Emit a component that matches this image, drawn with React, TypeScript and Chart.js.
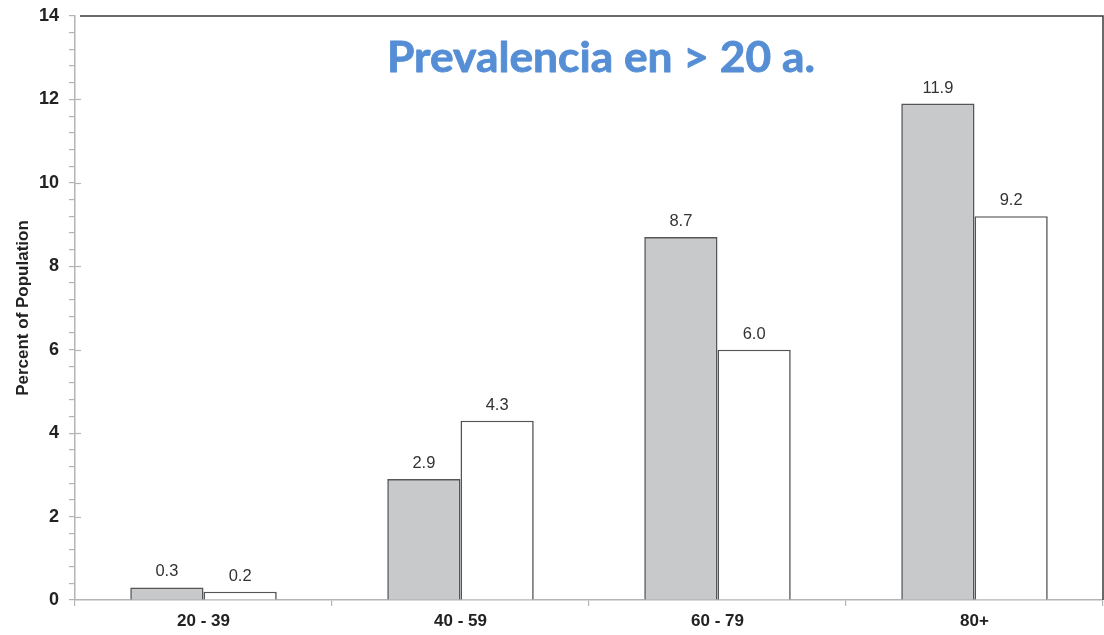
import React, { useEffect, useRef } from "react";
import { Chart, registerables } from "chart.js";

Chart.register(...registerables);

// Age groups and prevalence (%) for the two series
const categories = ["20 - 39", "40 - 59", "60 - 79", "80+"];
const seriesGray = [0.3, 2.9, 8.7, 11.9];
const seriesWhite = [0.2, 4.3, 6.0, 9.2];
const yMajorTicks = [0, 2, 4, 6, 8, 10, 12, 14];
const minorDivisions = 5;
const titleText = "Prevalencia en > 20 a.";
const yAxisTitle = "Percent of Population";

const AXIS_GRAY = "#b4b4b4";
const BAR_EDGE = "#555555";
const FONT = '"Liberation Sans", Arial, sans-serif';

// Draws the frame, major tick extensions, value labels and the heading
const decorations = {
  id: "decorations",
  afterDatasetsDraw(chart: any) {
    const { ctx, chartArea } = chart;
    const y = chart.scales.y;
    ctx.save();

    // top and right frame
    ctx.strokeStyle = "#3a3a3a";
    ctx.lineWidth = 1.5;
    ctx.beginPath();
    ctx.moveTo(chartArea.left + 5, chartArea.top);
    ctx.lineTo(chartArea.right, chartArea.top);
    ctx.lineTo(chartArea.right, chartArea.bottom);
    ctx.stroke();

    // major ticks reach a little into the plot
    ctx.strokeStyle = AXIS_GRAY;
    ctx.lineWidth = 1.2;
    yMajorTicks.forEach((v) => {
      if (v === 0 || v === 14) return;
      const py = Math.round(y.getPixelForValue(v)) + 0.5;
      ctx.beginPath();
      ctx.moveTo(chartArea.left, py);
      ctx.lineTo(chartArea.left + 6, py);
      ctx.stroke();
    });

    // value labels above each bar
    ctx.fillStyle = "#333333";
    ctx.font = `16.5px ${FONT}`;
    ctx.textAlign = "center";
    ctx.textBaseline = "alphabetic";
    chart.data.datasets.forEach((ds: any, di: number) => {
      const meta = chart.getDatasetMeta(di);
      meta.data.forEach((bar: any, i: number) => {
        const v = ds.data[i] as number;
        ctx.fillText(v.toFixed(1), bar.x, bar.y - 11);
      });
    });

    // heading
    ctx.fillStyle = "#558ed5";
    ctx.strokeStyle = "#558ed5";
    ctx.lineWidth = 0.8;
    ctx.lineJoin = "round";
    ctx.font = 'bold 42px Lato, "Open Sans", sans-serif';
    ctx.textAlign = "left";
    const targetW = 428;
    const w = ctx.measureText(titleText).width;
    ctx.translate(387, 72);
    ctx.scale(targetW / w, 1);
    ctx.fillText(titleText, 0, 0);
    ctx.strokeText(titleText, 0, 0);
    ctx.restore();
  },
};

export default function App() {
  const canvasRef = useRef<HTMLCanvasElement | null>(null);

  useEffect(() => {
    if (!canvasRef.current) return;
    const chart = new Chart(canvasRef.current, {
      type: "bar",
      data: {
        labels: categories,
        datasets: [
          {
            data: seriesGray,
            backgroundColor: "#c8c9cb",
            borderColor: BAR_EDGE,
            borderWidth: 1.6,
          },
          {
            data: seriesWhite,
            backgroundColor: "#ffffff",
            borderColor: BAR_EDGE,
            borderWidth: 1.6,
          },
        ],
      },
      options: {
        responsive: false,
        animation: false,
        layout: { padding: { top: 16, right: 1, left: 0, bottom: 0 } },
        plugins: {
          legend: { display: false },
          title: { display: false },
          tooltip: { enabled: false },
        },
        datasets: {
          bar: { barPercentage: 1, categoryPercentage: 0.57 },
        },
        scales: {
          x: {
            grid: {
              drawOnChartArea: false,
              drawTicks: true,
              tickLength: 6,
              color: AXIS_GRAY,
              lineWidth: 1.2,
            },
            border: { color: AXIS_GRAY, width: 1.5 },
            ticks: {
              color: "#222222",
              padding: 5,
              font: { family: FONT, size: 17, weight: "bold" },
            },
            afterFit(scale: any) {
              scale.height = 35;
              scale.paddingLeft = 0;
              scale.paddingRight = 0;
            },
          },
          y: {
            min: 0,
            max: 14,
            afterBuildTicks(scale: any) {
              const ticks: { value: number }[] = [];
              const top = yMajorTicks[yMajorTicks.length - 1];
              const step = (yMajorTicks[1] - yMajorTicks[0]) / minorDivisions;
              const n = Math.round(top / step);
              for (let i = 0; i <= n; i++) ticks.push({ value: +(i * step).toFixed(4) });
              scale.ticks = ticks;
            },
            afterFit(scale: any) {
              scale.width = 75;
              scale.paddingTop = 0;
              scale.paddingBottom = 0;
            },
            grid: {
              drawOnChartArea: false,
              drawTicks: true,
              tickLength: 6,
              color: AXIS_GRAY,
              lineWidth: 1.2,
            },
            border: { color: AXIS_GRAY, width: 1.5 },
            ticks: {
              autoSkip: false,
              padding: 10,
              color: "#222222",
              font: { family: FONT, size: 18, weight: "bold" },
              callback: (v: any) => (yMajorTicks.includes(Number(v)) ? String(v) : ""),
            },
            title: {
              display: true,
              text: yAxisTitle,
              color: "#222222",
              padding: { top: 13, bottom: 0 },
              font: { family: FONT, size: 17, weight: "bold" },
            },
          },
        },
      },
      plugins: [decorations],
    });
    return () => chart.destroy();
  }, []);

  return (
    <div style={{ position: "fixed", left: 0, top: 0, width: 1104, height: 635, background: "#ffffff" }}>
      <canvas ref={canvasRef} width={1104} height={635} />
    </div>
  );
}
